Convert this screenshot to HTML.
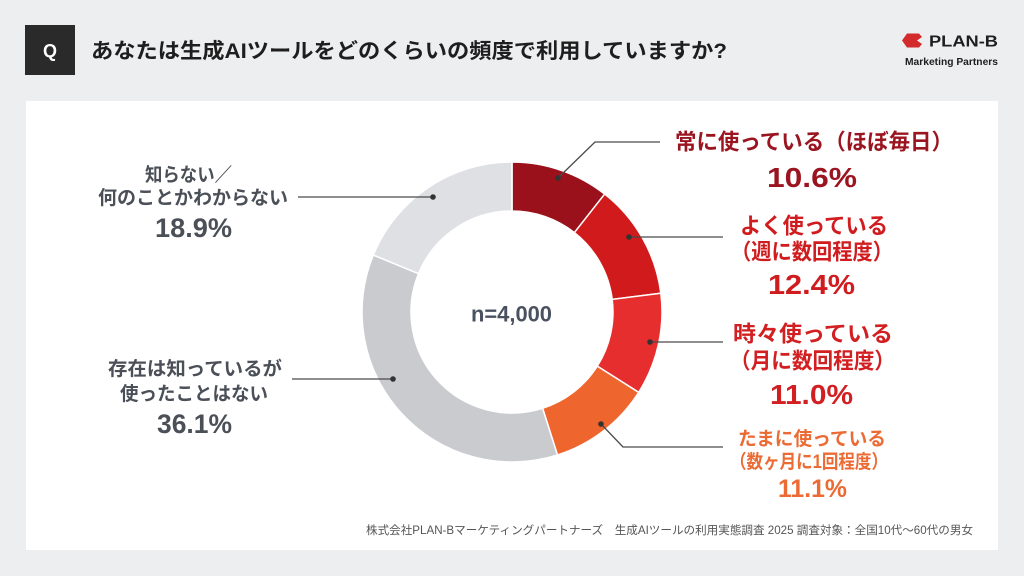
<!DOCTYPE html>
<html><head><meta charset="utf-8"><style>
html,body{margin:0;padding:0;background:#edeef0;}
svg{display:block;}
.jp{font-family:"Liberation Sans","Noto Sans CJK JP",sans-serif;}
.num{font-family:"Liberation Sans","Noto Sans CJK JP",sans-serif;font-weight:700;}
</style></head><body>
<svg width="1024" height="576" viewBox="0 0 1024 576" xmlns="http://www.w3.org/2000/svg">
<rect x="0" y="0" width="1024" height="576" fill="#edeef0"/>
<!-- header -->
<rect x="25" y="25" width="50" height="50" fill="#2a2a2a"/>
<text x="50" y="57" text-anchor="middle" class="num" font-size="18" fill="#ffffff">Q</text>
<text x="91" y="58" class="jp" font-weight="700" font-size="21" fill="#1e1e1e" textLength="636" lengthAdjust="spacingAndGlyphs">あなたは生成AIツールをどのくらいの頻度で利用していますか?</text>
<polygon points="902,40.5 907,33.5 919,33.5 922,37 917,40.5 922,44 919,47.5 907,47.5" fill="#d32a2b"/>
<text x="929" y="46.5" class="num" font-size="15.5" fill="#1e1e1e" textLength="69" lengthAdjust="spacingAndGlyphs">PLAN-B</text>
<text x="905" y="65" class="jp" font-weight="700" font-size="10.5" fill="#1e1e1e" textLength="93" lengthAdjust="spacingAndGlyphs">Marketing Partners</text>
<!-- panel -->
<rect x="26" y="101" width="972" height="449" fill="#ffffff"/>
<!-- donut -->
<g stroke="#ffffff" stroke-width="1.5">
<path d="M512,162 A150,150 0 0 1 604.69,194.07 L574.41,232.59 A101,101 0 0 0 512,211 Z" fill="#9a111c"/>
<path d="M604.69,194.07 A150,150 0 0 1 660.82,293.20 L612.20,299.34 A101,101 0 0 0 574.41,232.59 Z" fill="#d11a1b"/>
<path d="M660.82,293.20 A150,150 0 0 1 638.65,392.37 L597.27,366.12 A101,101 0 0 0 612.20,299.34 Z" fill="#e62e2e"/>
<path d="M638.65,392.37 A150,150 0 0 1 557.45,454.95 L542.60,408.25 A101,101 0 0 0 597.27,366.12 Z" fill="#ef652e"/>
<path d="M557.45,454.95 A150,150 0 0 1 373.25,255.03 L418.57,273.64 A101,101 0 0 0 542.60,408.25 Z" fill="#c9cbce"/>
<path d="M373.25,255.03 A150,150 0 0 1 512,162 L512,211 A101,101 0 0 0 418.57,273.64 Z" fill="#dfe0e3"/>
</g>
<text x="471" y="321.5" class="num" font-size="22" fill="#4a5260" textLength="81" lengthAdjust="spacingAndGlyphs">n=4,000</text>
<!-- leader lines -->
<g stroke="#4a4a4a" stroke-width="1.3" fill="none">
<polyline points="558,178 595,142 660,142"/>
<polyline points="629,237 723,237"/>
<polyline points="650,342 723,342"/>
<polyline points="601,424 623,447 723,447"/>
<polyline points="298,197 433,197"/>
<polyline points="292,379 393,379"/>
</g>
<g fill="#333">
<circle cx="558" cy="178" r="2.8"/>
<circle cx="629" cy="237" r="2.8"/>
<circle cx="650" cy="342" r="2.8"/>
<circle cx="601" cy="424" r="2.8"/>
<circle cx="433" cy="197" r="2.8"/>
<circle cx="393" cy="379" r="2.8"/>
</g>
<!-- right labels -->
<g class="jp" font-weight="700">
<text x="675" y="149.5" font-size="22" fill="#9b1520" textLength="278" lengthAdjust="spacingAndGlyphs">常に使っている（ほぼ毎日）</text>
<text x="740" y="233.5" font-size="22" fill="#d01c1f" textLength="148" lengthAdjust="spacingAndGlyphs">よく使っている</text>
<text x="731" y="259.5" font-size="22" fill="#d01c1f" textLength="162" lengthAdjust="spacingAndGlyphs">（週に数回程度）</text>
<text x="733" y="341.5" font-size="22" fill="#d21f22" textLength="160" lengthAdjust="spacingAndGlyphs">時々使っている</text>
<text x="730" y="368.5" font-size="22" fill="#d21f22" textLength="165" lengthAdjust="spacingAndGlyphs">（月に数回程度）</text>
<text x="738" y="445.2" font-size="19" fill="#ec6a33" textLength="148" lengthAdjust="spacingAndGlyphs">たまに使っている</text>
<text x="730" y="468.2" font-size="19" fill="#ec6a33" textLength="158" lengthAdjust="spacingAndGlyphs">（数ヶ月に1回程度）</text>
<text x="145" y="181.2" font-size="19" fill="#4b5058" textLength="87" lengthAdjust="spacingAndGlyphs">知らない／</text>
<text x="98" y="204.2" font-size="19" fill="#4b5058" textLength="190" lengthAdjust="spacingAndGlyphs">何のことかわからない</text>
<text x="108" y="375.2" font-size="19" fill="#4b5058" textLength="174" lengthAdjust="spacingAndGlyphs">存在は知っているが</text>
<text x="120" y="400.2" font-size="19" fill="#4b5058" textLength="148" lengthAdjust="spacingAndGlyphs">使ったことはない</text>
</g>
<g class="num">
<text x="767" y="187" font-size="28" fill="#9b1520" textLength="90" lengthAdjust="spacingAndGlyphs">10.6%</text>
<text x="768" y="294" font-size="28" fill="#d01c1f" textLength="87" lengthAdjust="spacingAndGlyphs">12.4%</text>
<text x="770" y="404" font-size="28" fill="#d21f22" textLength="83" lengthAdjust="spacingAndGlyphs">11.0%</text>
<text x="778" y="497" font-size="25" fill="#ec6a33" textLength="69" lengthAdjust="spacingAndGlyphs">11.1%</text>
<text x="155" y="237" font-size="27" fill="#4b5058" textLength="77" lengthAdjust="spacingAndGlyphs">18.9%</text>
<text x="157" y="433" font-size="27" fill="#4b5058" textLength="75" lengthAdjust="spacingAndGlyphs">36.1%</text>
</g>
<!-- footer -->
<text x="366" y="534.2" class="jp" font-size="11.5" fill="#555555" textLength="607" lengthAdjust="spacingAndGlyphs">株式会社PLAN-Bマーケティングパートナーズ　生成AIツールの利用実態調査 2025 調査対象：全国10代〜60代の男女</text>
</svg>
</body></html>
